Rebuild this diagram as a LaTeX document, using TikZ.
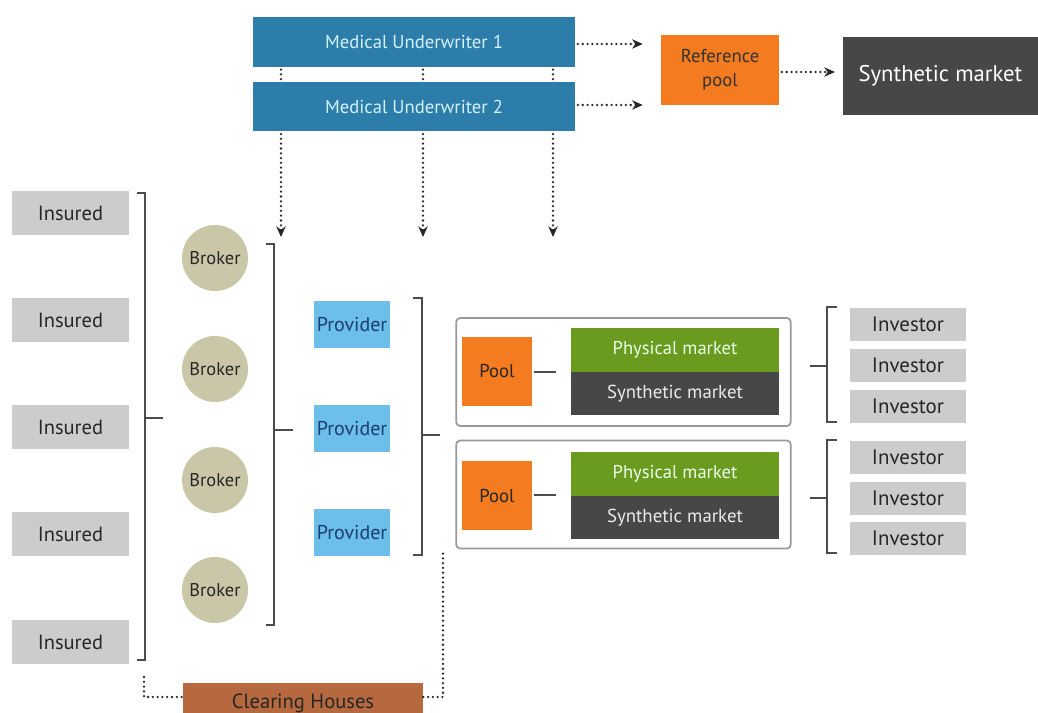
\documentclass[tikz,border=0pt]{standalone}
\usepackage{fontspec}
\setmainfont{PT Sans}
\usetikzlibrary{arrows.meta,calc}

\definecolor{mublue}{HTML}{2C7DAA}
\definecolor{mutext}{HTML}{D4F1FF}
\definecolor{poolorange}{HTML}{F47B20}
\definecolor{darkmarket}{HTML}{474747}
\definecolor{insgray}{HTML}{CCCCCC}
\definecolor{brokerkhaki}{HTML}{C9C7A7}
\definecolor{provblue}{HTML}{6CBEEB}
\definecolor{provtext}{HTML}{1D3E75}
\definecolor{physgreen}{HTML}{6A9B1F}
\definecolor{clearbrown}{HTML}{B6693F}

\begin{document}
\begin{tikzpicture}[x=0.75pt,y=-0.75pt,>={Stealth[length=8pt,width=7pt]},
		every node/.style={inner sep=0pt,font=\fontsize{14}{18}\selectfont},
		mubox/.style={fill=mublue,text=mutext,minimum width=241.5pt,minimum height=37pt},
		refbox/.style={fill=poolorange,text=black!80,minimum width=88.5pt,minimum height=52.5pt,align=center},
		bigmarket/.style={fill=darkmarket,text=white,minimum width=146pt,minimum height=58.5pt,font=\fontsize{17}{20}\selectfont},
		insbox/.style={fill=insgray,text=black!85,minimum width=88pt,minimum height=33pt,font=\fontsize{15.4}{18}\selectfont},
		brokerdot/.style={circle,fill=brokerkhaki,text=black!85,minimum size=49.5pt,font=\fontsize{13.8}{15}\selectfont},
		provbox/.style={fill=provblue,text=provtext,minimum width=57pt,minimum height=35pt,font=\fontsize{15}{17}\selectfont},
		framebox/.style={draw=black!40,line width=1.3pt,rounded corners=3pt,fill=white,minimum width=251pt,minimum height=81pt},
		poolbox/.style={fill=poolorange,text=black!85,minimum width=52.5pt,minimum height=52pt},
		physbox/.style={fill=physgreen,text=green!8,minimum width=156pt,minimum height=32.6pt,font=\fontsize{13.9}{15}\selectfont},
		synbox/.style={fill=darkmarket,text=white!92!black,minimum width=156pt,minimum height=32.6pt,font=\fontsize{14.1}{15}\selectfont},
		invbox/.style={fill=insgray,text=black!85,minimum width=87pt,minimum height=24.75pt,font=\fontsize{15.7}{18}\selectfont},
		clearbox/.style={fill=clearbrown,text=black!85,minimum width=180pt,minimum height=30pt,font=\fontsize{15.4}{18}\selectfont},
		dots/.style={draw=black!85,line width=1.9pt,line cap=round,dash pattern=on 0pt off 3.6pt},
		flow/.style={dots,->},
		brk/.style={draw=black!70,line width=0.9pt}]
	
	\useasboundingbox (0,0) rectangle (1038,713);
	
	% underwriters and reference pool
	\node[mubox] (mu1) at (414,42) {Medical Underwriter 1};
	\node[mubox] (mu2) at (414,106.5) {Medical Underwriter 2};
	\node[refbox] (ref) at (720,70) {Reference\\pool};
	\node[bigmarket] (syntop) at (940.5,76) {Synthetic market};
	
	\draw[flow,shorten <=2pt,shorten >=13.5pt] (mu1.east |- 0,44) -- (ref.west |- 0,44);
	\draw[flow,shorten <=2pt,shorten >=13.5pt] (mu2.east |- 0,105) -- (ref.west |- 0,105);
	\draw[flow,shorten <=2pt,shorten >=6pt] (ref.east |- 0,72) -- (syntop.west |- 0,72);
	
	\coordinate (t1) at (281,237);
	\coordinate (t2) at (423,237);
	\coordinate (t3) at (553,237);
	\draw[dots,shorten <=2pt] (mu1.south -| t1) -- (mu2.north -| t1);
	\draw[dots,shorten <=2pt] (mu1.south -| t2) -- (mu2.north -| t2);
	\draw[dots,shorten <=2pt] (mu1.south -| t3) -- (mu2.north -| t3);
	\draw[flow,shorten <=2pt] (mu2.south -| t1) -- (t1);
	\draw[flow,shorten <=2pt] (mu2.south -| t2) -- (t2);
	\draw[flow,shorten <=2pt] (mu2.south -| t3) -- (t3);
	
	% insured, brokers, providers
	\node[insbox] (ins1) at (70.5,213) {Insured};
	\node[insbox] (ins2) at (70.5,320) {Insured};
	\node[insbox] (ins3) at (70.5,427) {Insured};
	\node[insbox] (ins4) at (70.5,534) {Insured};
	\node[insbox] (ins5) at (70.5,642) {Insured};
	
	\node[brokerdot] (br1) at (215,258) {Broker};
	\node[brokerdot] (br2) at (215,369) {Broker};
	\node[brokerdot] (br3) at (215,480) {Broker};
	\node[brokerdot] (br4) at (215,590) {Broker};
	
	\node[provbox] (pv1) at (352,324.5) {Provider};
	\node[provbox] (pv2) at (352,428.5) {Provider};
	\node[provbox] (pv3) at (352,532.5) {Provider};
	
	\draw[brk] (137,193) -| (145,660) -- (137,660);
	\draw[brk] (145,418) -- (163,418);
	\draw[brk] (266,244) -| (274,625) -- (266,625);
	\draw[brk] (274,430) -- (293,430);
	\draw[brk] (413,298) -| (422,555) -- (413,555);
	\draw[brk] (422,435) -- (440,435);
	
	% pools and markets
	\node[framebox] (fr1) at (623.5,372) {};
	\node[framebox] (fr2) at (623.5,494.5) {};
	\node[poolbox] (pool1) at (497,371.5) {Pool};
	\node[poolbox] (pool2) at (497,495.5) {Pool};
	\node[physbox] (phys1) at (675,350) {Physical market};
	\node[synbox] (syn1) at (675,393.5) {Synthetic market};
	\node[physbox] (phys2) at (675,474) {Physical market};
	\node[synbox] (syn2) at (675,517.5) {Synthetic market};
	
	\draw[brk,shorten <=1pt,shorten >=11pt] (pool1.east |- 0,372) -- (phys1.west |- 0,372);
	\draw[brk,shorten <=1pt,shorten >=11pt] (pool2.east |- 0,495) -- (phys2.west |- 0,495);
	
	% investors
	\node[invbox] (inv1) at (908,324.5) {Investor};
	\node[invbox] (inv2) at (908,365.5) {Investor};
	\node[invbox] (inv3) at (908,406.5) {Investor};
	\node[invbox] (inv4) at (908,457.5) {Investor};
	\node[invbox] (inv5) at (908,498.5) {Investor};
	\node[invbox] (inv6) at (908,538.5) {Investor};
	
	\draw[brk] (837,307) -| (827,422) -- (837,422);
	\draw[brk] (810,366) -- (827,366);
	\draw[brk] (837,440) -| (827,553) -- (837,553);
	\draw[brk] (810,498) -- (827,498);
	
	% clearing houses
	\node[clearbox] (clear) at (303,703) {Clearing Houses};
	\draw[dots] (144,677) |- ([yshift=4.5pt]clear.west);
	\draw[dots] ([yshift=4.5pt]clear.east) -| (443,553);
\end{tikzpicture}
\end{document}
